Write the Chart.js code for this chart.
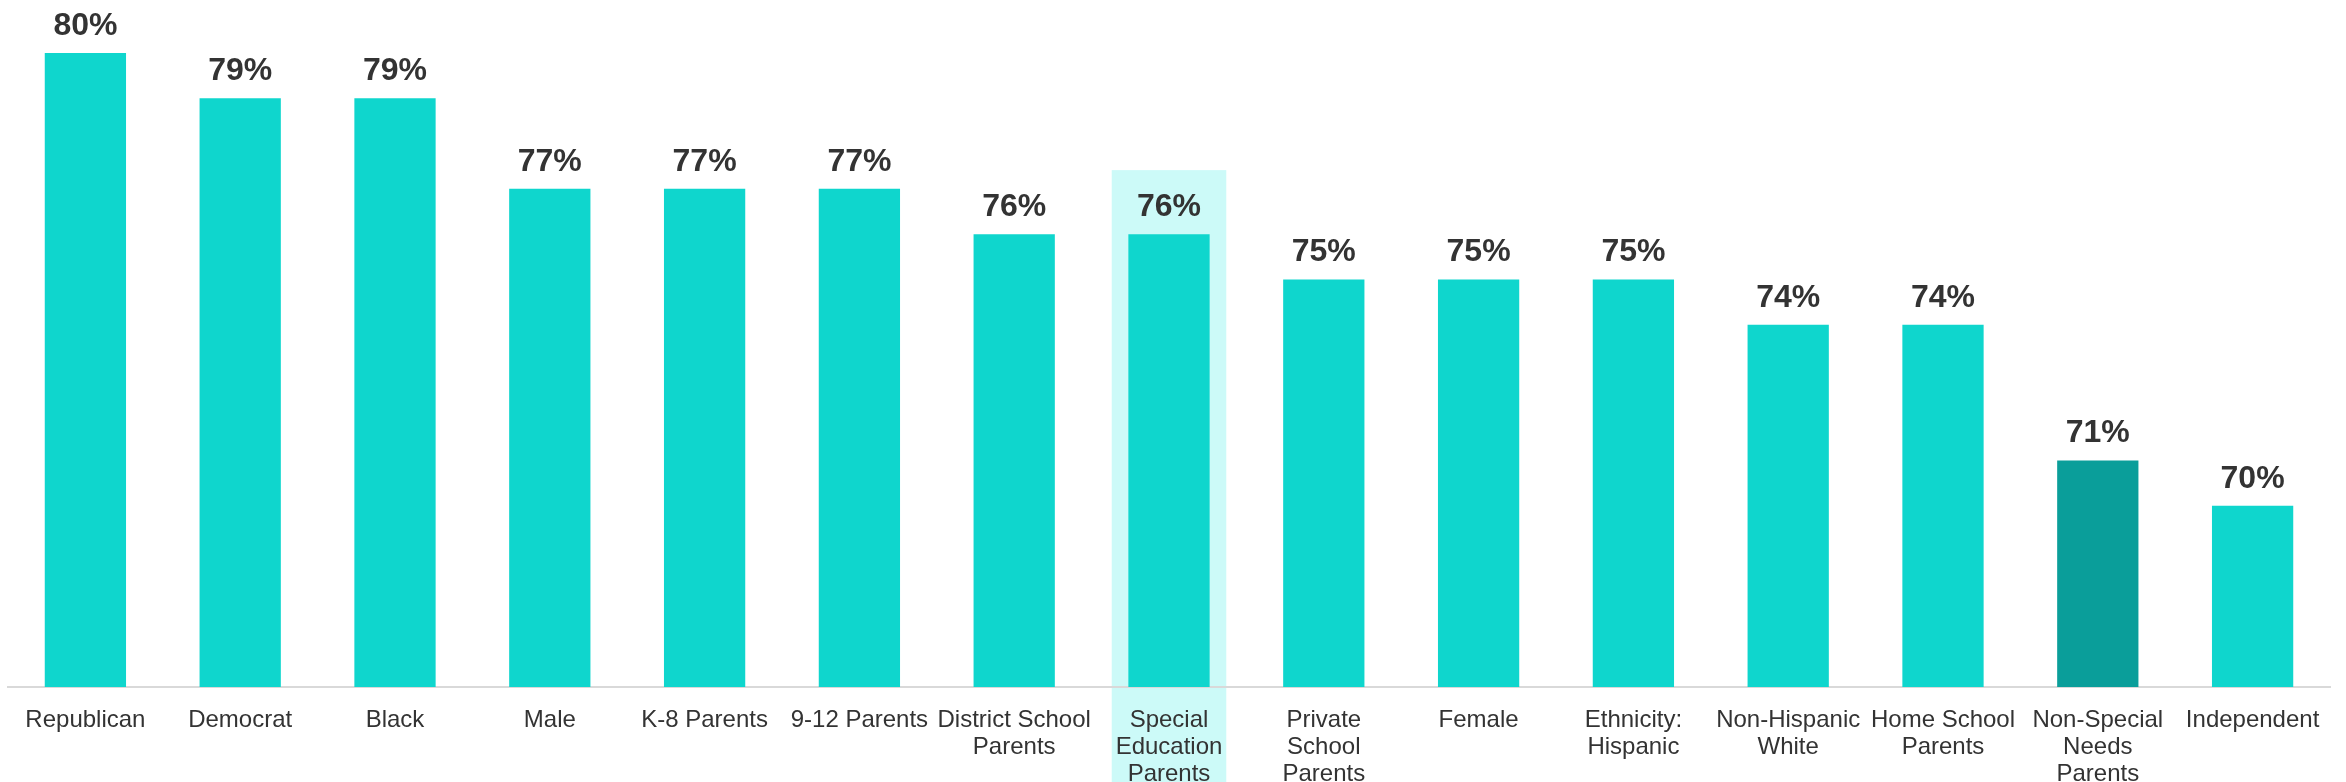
<!DOCTYPE html>
<html>
<head>
<meta charset="utf-8">
<script src="https://cdn.jsdelivr.net/npm/chart.js@4"></script>
<style>
  html, body { margin: 0; padding: 0; background: #fff; }
  #wrap { width: 2346px; height: 782px; position: relative; }
</style>
</head>
<body>
<div id="wrap"><canvas id="chart"></canvas></div>
<script>
// data
var categories = [
  'Republican', 'Democrat', 'Black', 'Male', 'K-8 Parents', '9-12 Parents',
  ['District School', 'Parents'], ['Special', 'Education', 'Parents'],
  ['Private', 'School', 'Parents'], 'Female', ['Ethnicity:', 'Hispanic'],
  ['Non-Hispanic', 'White'], ['Home School', 'Parents'],
  ['Non-Special', 'Needs', 'Parents'], 'Independent'
];
var values = [80, 79, 79, 77, 77, 77, 76, 76, 75, 75, 75, 74, 74, 71, 70];
var highlightIndex = 7;   // Special Education Parents
var darkIndex = 13;       // Non-Special Needs Parents

var TEAL = '#0fd6cd';
var DARK = '#0a9e9a';

var barColors = values.map(function(v, i) { return i === darkIndex ? DARK : TEAL; });

// light band behind the highlighted category
var bandPlugin = {
  id: 'band',
  beforeDraw: function(chart) {
    var ctx = chart.ctx;
    var x = chart.scales.x, y = chart.scales.y;
    var step = x.getPixelForValue(1) - x.getPixelForValue(0);
    var cx = x.getPixelForValue(highlightIndex);
    var top = y.getPixelForValue(values[highlightIndex]) - 64;
    ctx.save();
    ctx.fillStyle = '#ccfaf8';
    ctx.fillRect(cx - step * 0.37, top, step * 0.74, chart.height - top);
    ctx.restore();
  }
};

// percent labels over the bars
var valueLabels = {
  id: 'valueLabels',
  afterDatasetsDraw: function(chart) {
    var ctx = chart.ctx;
    var meta = chart.getDatasetMeta(0);
    ctx.save();
    ctx.font = 'bold 32px "Liberation Sans", Arial, sans-serif';
    ctx.fillStyle = '#333333';
    ctx.textAlign = 'center';
    ctx.textBaseline = 'bottom';
    meta.data.forEach(function(bar, i) {
      ctx.fillText(values[i] + '%', bar.x, bar.y - 11);
    });
    ctx.restore();
  }
};

new Chart(document.getElementById('chart'), {
  type: 'bar',
  data: {
    labels: categories,
    datasets: [{
      data: values,
      backgroundColor: barColors,
      barPercentage: 0.525,
      categoryPercentage: 1.0
    }]
  },
  options: {
    responsive: true,
    maintainAspectRatio: false,
    animation: false,
    layout: { padding: { left: 8, right: 16, top: 0, bottom: 0 } },
    plugins: { legend: { display: false }, tooltip: { enabled: false } },
    scales: {
      x: {
        grid: { display: false, drawTicks: false },
        border: { color: '#d9d9d9', width: 2 },
        afterFit: function(axis) { axis.height = 95; },
        ticks: {
          color: '#333333',
          padding: 20,
          maxRotation: 0,
          autoSkip: false,
          font: { family: '"Liberation Sans", Arial, sans-serif', size: 24, lineHeight: 1.13 }
        }
      },
      y: {
        display: false,
        min: 66,
        max: 81.17
      }
    }
  },
  plugins: [bandPlugin, valueLabels]
});
</script>
</body>
</html>
